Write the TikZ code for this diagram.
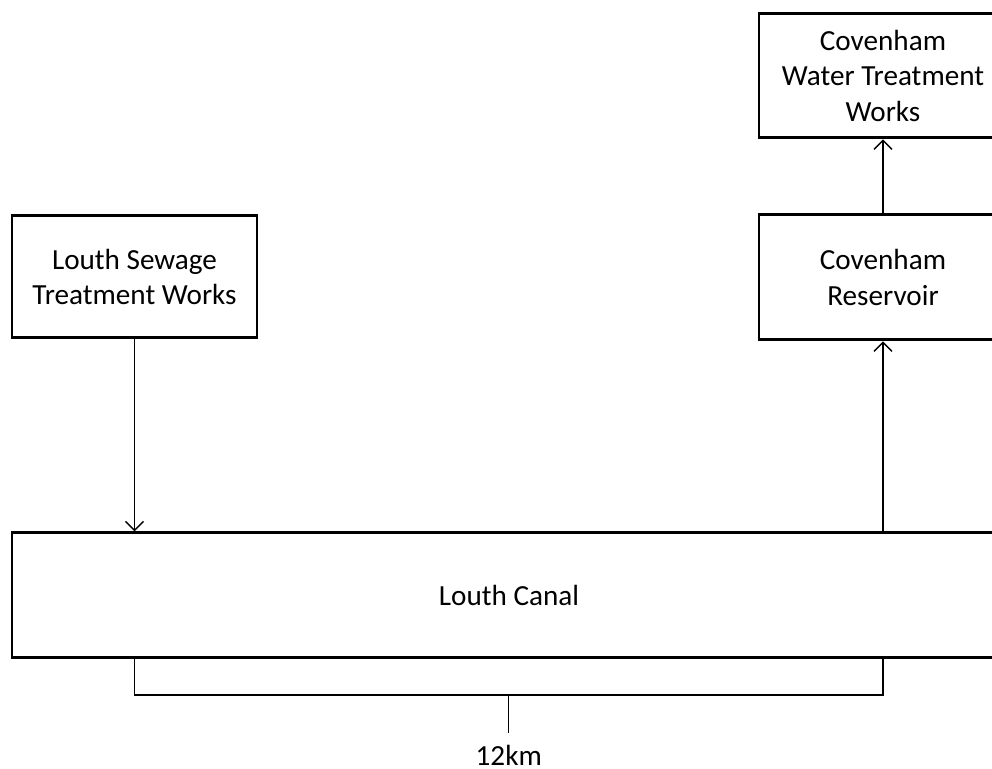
\documentclass[tikz,border=0pt]{standalone}
\usepackage{fontspec}
\setmainfont{Carlito}
\usetikzlibrary{arrows.meta, positioning, calc}

\begin{document}
\begin{tikzpicture}[
  box/.style={rectangle, draw, line width=0.85pt, align=center, font=\fontsize{8.3}{10.2}\selectfont, inner sep=0pt},
  arr/.style={-{Straight Barb[length=0.9mm, width=1.8mm]}, line width=0.4pt},
  lnk/.style={line width=0.4pt},
  lbl/.style={font=\fontsize{8.3}{10.2}\selectfont, inner sep=1pt}]
\useasboundingbox (0,0) rectangle (9.92,7.69);
\node[box, minimum width=2.48cm, minimum height=1.24cm] (wtw) at (8.83, 6.93) {Covenham\\Water Treatment\\Works};
\node[box, minimum width=2.48cm, minimum height=1.25cm] (res) at (8.83, 4.915) {Covenham\\Reservoir};
\node[box, minimum width=2.45cm, minimum height=1.22cm] (sew) at (1.345, 4.92) {Louth Sewage\\Treatment Works};
\node[box, minimum width=9.94cm, minimum height=1.25cm] (canal) at (5.09, 1.735) {Louth Canal};
\draw[arr] (sew.south) -- (sew.south |- canal.north);
\draw[arr] (res.south |- canal.north) -- (res.south);
\draw[arr] (res.north) -- (wtw.south);
% length bracket under the canal
\coordinate (lvl) at (0, 0.74);
\coordinate (bl) at (sew.south |- lvl);
\coordinate (br) at (res.south |- lvl);
\coordinate (bm) at ($(bl)!0.5!(br)$);
\coordinate (tick) at ($(bm) + (0,-0.38)$);
\coordinate (lbot) at (0, 0.135);
\node[lbl] (len) at (bm |- lbot) {12km};
\draw[lnk] (sew.south |- canal.south) -- (bl) -- (br) -- (res.south |- canal.south);
\draw[lnk] (bm) -- (tick);
\end{tikzpicture}
\end{document}
